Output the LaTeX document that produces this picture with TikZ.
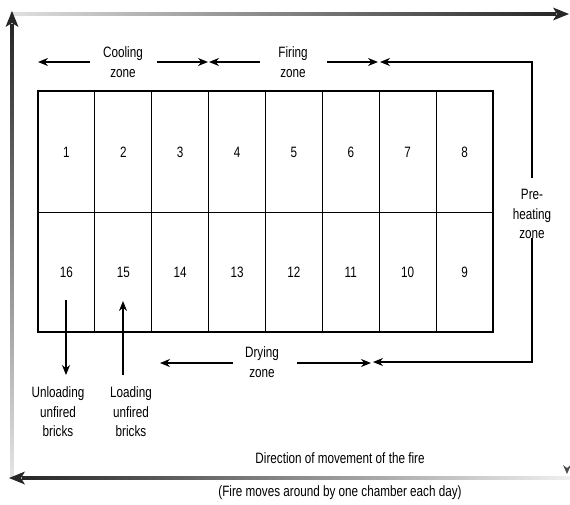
\documentclass[tikz,border=0pt]{standalone}
\usepackage{fontspec}
\setmainfont{Liberation Sans}[FakeStretch=0.78]
\usetikzlibrary{arrows.meta}
\begin{document}
\begin{tikzpicture}[x=1pt,y=-1pt,
  lbl/.style={font=\fontsize{15}{19.5}\selectfont, align=center, inner sep=0pt},
  zarrow/.style={line width=1.4pt, -{Stealth[length=10pt,width=8pt]}},
  kiln/.style={line width=1.9pt},
  wall/.style={line width=1pt}]
\useasboundingbox (0,0) rectangle (570,504);
% frame with gradients
\shade[left color=black!12, right color=black!85] (10,12.2) rectangle (556,15.8);
\fill[black!85] (569,14) -- (553,7.5) -- (557,14) -- (553,20.5) -- cycle;
\shade[top color=black!85, bottom color=black!10] (10.2,24) rectangle (13.8,478);
\fill[black!85] (12,11) -- (5.5,27) -- (12,23) -- (18.5,27) -- cycle;
\shade[left color=black!85, right color=black!6] (22,476.2) rectangle (570,479.8);
\fill[black!85] (9,478) -- (25,471.5) -- (21,478) -- (25,484.5) -- cycle;
\fill[black!70] (567,474) -- (563,465) -- (567,468) -- (571,465) -- cycle;
% kiln
\draw[kiln] (38,91) rectangle (493,332);
\draw[wall] (38,212) -- (493,212);
\foreach \i in {1,...,7} \draw[wall] ({38+56.875*\i},91) -- ({38+56.875*\i},332);
\foreach \n [count=\i from 0] in {1,...,8}
  \node[lbl] (c\n) at ({38+56.875*(\i+0.5)},152) {\n};
\foreach \n [count=\i from 0] in {16,15,14,13,12,11,10,9}
  \node[lbl] (c\n) at ({38+56.875*(\i+0.5)},272) {\n};
% zone labels
\node[lbl] (cool) at (123,62) {Cooling\\zone};
\node[lbl] (fire) at (293,62) {Firing\\zone};
\node[lbl] (pre) at (532,214) {Pre-\\heating\\zone};
\node[lbl] (dry) at (262,362) {Drying\\zone};
% coordinates
\coordinate (cA) at (90,62);  \coordinate (cB) at (38,62);
\coordinate (cC) at (157,62); \coordinate (cD) at (208,62);
\coordinate (fA) at (260,62); \coordinate (fB) at (209,62);
\coordinate (fC) at (327,62); \coordinate (fD) at (378,62);
\coordinate (pT) at (532,178); \coordinate (pTe) at (380,62);
\coordinate (pB) at (532,238); \coordinate (pBe) at (373,362);
\coordinate (dA) at (233,363); \coordinate (dB) at (160,363);
\coordinate (dC) at (297,363); \coordinate (dD) at (371,363);
\draw[zarrow] (cA) -- (cB);
\draw[zarrow] (cC) -- (cD);
\draw[zarrow] (fA) -- (fB);
\draw[zarrow] (fC) -- (fD);
\draw[zarrow] (pT) |- (pTe);
\draw[zarrow] (pB) |- (pBe);
\draw[zarrow] (dA) -- (dB);
\draw[zarrow] (dC) -- (dD);
% loading / unloading
\node[lbl] (unl) at (58,412) {Unloading\\unfired\\bricks};
\node[lbl] (lod) at (131,412) {Loading\\unfired\\bricks};
\coordinate (u1) at (66,300); \coordinate (u2) at (66,375);
\coordinate (l1) at (123,375); \coordinate (l2) at (123,301);
\draw[zarrow] (u1) -- (u2);
\draw[zarrow] (l1) -- (l2);
% bottom texts
\node[lbl] (dir) at (340,458) {Direction of movement of the fire};
\node[lbl] (note) at (340,493) {(Fire moves around by one chamber each day)};
\end{tikzpicture}
\end{document}
